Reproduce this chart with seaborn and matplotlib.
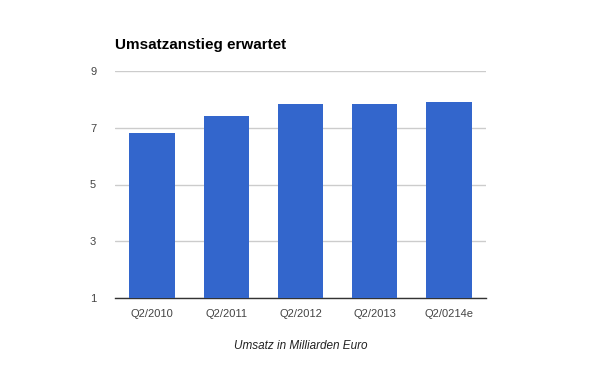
import seaborn as sns
import pandas as pd
import matplotlib.pyplot as plt

quarters = ["Q2/2010", "Q2/2011", "Q2/2012", "Q2/2013", "Q2/0214e"]
umsatz = [6.83, 7.40, 7.85, 7.82, 7.89]
yticks = [1, 3, 5, 7, 9]

df = pd.DataFrame({"quarter": quarters, "umsatz": umsatz})

sns.set_style("white")
plt.rcParams['font.family'] = ['Arial', 'Liberation Sans', 'DejaVu Sans']

fig = plt.figure(figsize=(6, 3.71), dpi=100)
ax = fig.add_axes([115/600, 1 - 298/371, 371/600, 227/371])

sns.barplot(data=df, x="quarter", y="umsatz", color="#3366cc",
            saturation=1, width=0.61, linewidth=0, ax=ax, zorder=3)

ax.set_ylim(1, 9)
ax.set_yticks(yticks)
ax.yaxis.grid(True, color="#cccccc", linewidth=1, zorder=0)
ax.set_axisbelow(True)
for s in ["top", "right", "left"]:
    ax.spines[s].set_visible(False)
ax.spines["bottom"].set_color("#333333")
ax.spines["bottom"].set_linewidth(1)
ax.tick_params(axis="both", length=0, labelsize=8, colors="#444444", pad=8)
ax.tick_params(axis="y", pad=18)
for lbl in ax.get_yticklabels():
    lbl.set_horizontalalignment("left")
ax.set_xlim(-0.5, 4.5)

ax.set_ylabel("")
ax.set_xlabel("Umsatz in Milliarden Euro", fontsize=8.5, style="italic",
              color="#222222", labelpad=15)
fig.text(115/600, 1 - 45/371, "Umsatzanstieg erwartet", fontsize=11,
         fontweight="bold", color="#000000", va="center", ha="left")

fig.savefig("out.png", dpi=100)
